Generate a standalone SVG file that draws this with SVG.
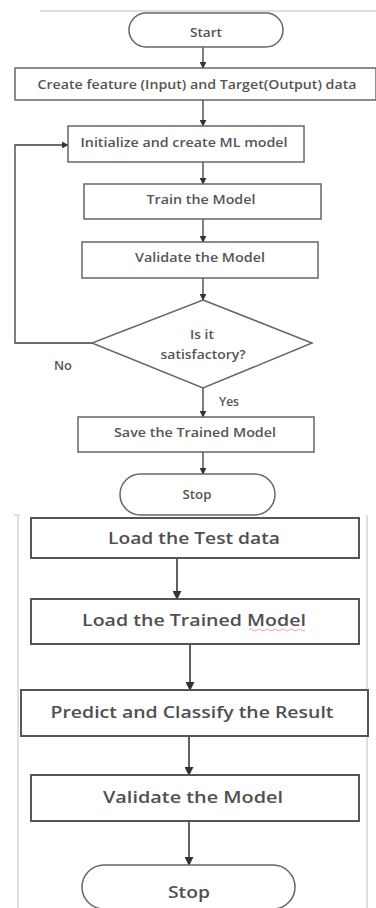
<svg xmlns="http://www.w3.org/2000/svg" width="376" height="908" viewBox="0 0 376 908">
<defs>
<marker id="ah" viewBox="0 0 10 10" refX="9" refY="5" markerWidth="7" markerHeight="7" markerUnits="userSpaceOnUse" orient="auto">
<path d="M0,0 L10,5 L0,10 z" fill="#333"/>
</marker>
<marker id="ahb" viewBox="0 0 10 10" refX="9" refY="5" markerWidth="9" markerHeight="9" markerUnits="userSpaceOnUse" orient="auto">
<path d="M0,0 L10,5 L0,10 z" fill="#333"/>
</marker>
</defs>
<style>
.box{fill:#fff;stroke:#666;stroke-width:1.5}
.box2{fill:#fff;stroke:#555;stroke-width:2}
.t{font-family:"Open Sans","Liberation Sans",sans-serif;font-size:12px;fill:#555;text-anchor:middle;font-weight:600}
.tb{font-family:"Open Sans","Liberation Sans",sans-serif;font-size:17px;fill:#505050;text-anchor:middle;font-weight:600}
.c{fill:none;stroke:#3a3a3a;stroke-width:1.3}
.c2{fill:none;stroke:#3a3a3a;stroke-width:1.6}
.frame{fill:none;stroke:#d4d4d4;stroke-width:1.5}
</style>
<rect width="376" height="908" fill="#fff"/>
<line class="frame" x1="40" y1="11" x2="376" y2="11"/>
<line class="frame" x1="18" y1="515" x2="18" y2="908"/>
<line class="frame" x1="367" y1="515" x2="367" y2="908"/>
<line class="frame" x1="14" y1="515" x2="20" y2="515"/>

<g id="connectors">
<line class="c" x1="203" y1="47" x2="203" y2="68" marker-end="url(#ah)"/>
<line class="c" x1="203" y1="100" x2="203" y2="126" marker-end="url(#ah)"/>
<line class="c" x1="203" y1="162" x2="203" y2="184" marker-end="url(#ah)"/>
<line class="c" x1="203" y1="219" x2="203" y2="242" marker-end="url(#ah)"/>
<line class="c" x1="203" y1="278" x2="203" y2="300" marker-end="url(#ah)"/>
<polyline class="c" points="92,343 15,343 15,145 68,145" marker-end="url(#ah)"/>
<line class="c" x1="203" y1="388" x2="203" y2="417" marker-end="url(#ah)"/>
<line class="c" x1="203" y1="452" x2="203" y2="474" marker-end="url(#ah)"/>
<line class="c2" x1="177" y1="558" x2="177" y2="599" marker-end="url(#ahb)"/>
<line class="c2" x1="190" y1="644" x2="190" y2="690" marker-end="url(#ahb)"/>
<line class="c2" x1="189" y1="736" x2="189" y2="775" marker-end="url(#ahb)"/>
<line class="c2" x1="189" y1="821" x2="189" y2="865" marker-end="url(#ahb)"/>
</g>

<g id="start">
<rect class="box" x="129" y="13" width="154" height="34" rx="17"/>
<text class="t" x="206" y="37" textLength="32" lengthAdjust="spacingAndGlyphs">Start</text>
</g>
<g id="create-data">
<rect class="box" x="15" y="68" width="361" height="32"/>
<text class="t" x="197" y="89" textLength="319" lengthAdjust="spacingAndGlyphs">Create feature (Input) and Target(Output) data</text>
</g>
<g id="init-model">
<rect class="box" x="68" y="126" width="236" height="36"/>
<text class="t" x="184" y="147" textLength="207" lengthAdjust="spacingAndGlyphs">Initialize and create ML model</text>
</g>
<g id="train">
<rect class="box" x="84" y="184" width="237" height="35"/>
<text class="t" x="201" y="204" textLength="109" lengthAdjust="spacingAndGlyphs">Train the Model</text>
</g>
<g id="validate1">
<rect class="box" x="82" y="242" width="236" height="36"/>
<text class="t" x="200" y="262" textLength="130" lengthAdjust="spacingAndGlyphs">Validate the Model</text>
</g>
<g id="decision">
<polygon class="box" points="203,300 312,343 203,388 92,343"/>
<text class="t" x="202" y="339" textLength="24" lengthAdjust="spacingAndGlyphs">Is it</text>
<text class="t" x="203" y="359" textLength="85" lengthAdjust="spacingAndGlyphs">satisfactory?</text>
</g>
<text class="t" x="63" y="370" textLength="18" lengthAdjust="spacingAndGlyphs">No</text>
<text class="t" x="229" y="406" textLength="20" lengthAdjust="spacingAndGlyphs">Yes</text>
<g id="save">
<rect class="box" x="78" y="417" width="236" height="35"/>
<text class="t" x="195" y="437" textLength="162" lengthAdjust="spacingAndGlyphs">Save the Trained Model</text>
</g>
<g id="stop1">
<rect class="box" x="120" y="474" width="155" height="41" rx="20.5"/>
<text class="t" x="197" y="499" textLength="29" lengthAdjust="spacingAndGlyphs">Stop</text>
</g>

<g id="load-test">
<rect class="box2" x="31" y="518" width="328" height="40"/>
<text class="tb" x="194" y="544" textLength="172" lengthAdjust="spacingAndGlyphs">Load the Test data</text>
</g>
<g id="load-trained">
<rect class="box2" x="31" y="599" width="328" height="45"/>
<text class="tb" x="194" y="626" textLength="224" lengthAdjust="spacingAndGlyphs">Load the Trained Model</text>
<path d="M249,630 q2,-2 4,0 t4,0 t4,0 t4,0 t4,0 t4,0 t4,0 t4,0 t4,0 t4,0 t4,0 t4,0 t4,0 t4,0" fill="none" stroke="#e06060" stroke-width="0.8" opacity="0.7"/>
</g>
<g id="predict">
<rect class="box2" x="21" y="690" width="347" height="46"/>
<text class="tb" x="192" y="718" textLength="283" lengthAdjust="spacingAndGlyphs">Predict and Classify the Result</text>
</g>
<g id="validate2">
<rect class="box2" x="31" y="775" width="328" height="46"/>
<text class="tb" x="193" y="803" textLength="180" lengthAdjust="spacingAndGlyphs">Validate the Model</text>
</g>
<g id="stop2">
<rect class="box" x="82" y="865" width="213" height="44" rx="22"/>
<text class="tb" x="189" y="898" textLength="42" lengthAdjust="spacingAndGlyphs">Stop</text>
</g>
</svg>
